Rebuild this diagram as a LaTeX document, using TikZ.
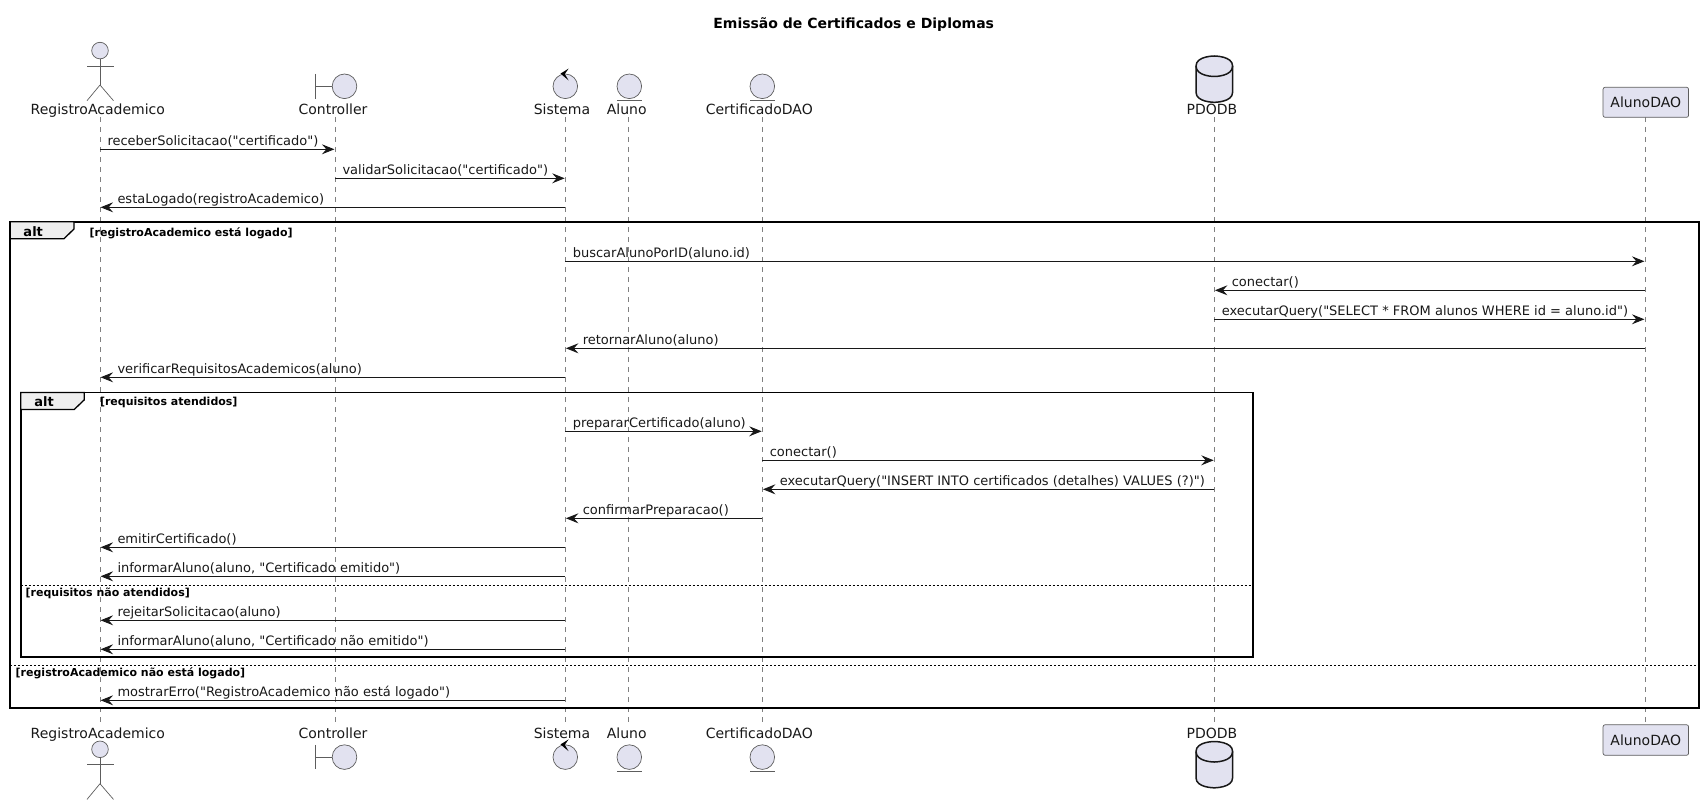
\documentclass[tikz,border=0pt]{standalone}
\usepackage{fontspec}
\setmainfont{DejaVu Sans}
\newfontfamily\djv{DejaVu Sans}
\usetikzlibrary{arrows.meta}
\definecolor{partfill}{HTML}{E2E2F0}
\definecolor{stroke}{HTML}{181818}
\definecolor{tabfill}{HTML}{EEEEEE}
\tikzset{
  life/.style={draw=stroke!55,line width=0.6pt,dash pattern=on 5pt off 5pt},
  msg/.style={draw=stroke,line width=0.9pt,-{Stealth[length=12.5pt,width=10pt,inset=4.5pt]},shorten >=0.6pt},
  msgtext/.style={inner sep=0pt,outer sep=0pt,text=stroke,font=\djv\fontsize{13}{15}\selectfont,anchor=base west},
  plabel/.style={inner sep=0pt,outer sep=0pt,text=stroke,font=\djv\fontsize{14}{16}\selectfont,anchor=base},
  icon/.style={draw=stroke!70,line width=0.7pt,fill=partfill},
  iconline/.style={draw=stroke!70,line width=0.7pt},
  dbshape/.style={draw=stroke,line width=1.5pt,fill=partfill},
  dbcap/.style={draw=stroke,line width=1.5pt},
  pbox/.style={draw=stroke!70,line width=0.7pt,fill=partfill,rounded corners=2pt,minimum width=85.5pt,inner sep=0pt,font=\djv\fontsize{14}{16}\selectfont,text=stroke},
  frame/.style={draw=black,line width=1.9pt},
  tab/.style={draw=black,line width=1.3pt,fill=tabfill},
  divider/.style={draw=black,line width=0.9pt,dash pattern=on 2pt off 2pt},
  guard/.style={inner sep=0pt,outer sep=0pt,text=black,font=\djv\fontsize{11}{13}\selectfont\bfseries,anchor=base west},
  altlabel/.style={inner sep=0pt,outer sep=0pt,text=black,font=\djv\fontsize{13}{15}\selectfont\bfseries,anchor=base},
}
% message going right: name, from, to, y, text
\newcommand\msgright[5]{%
  \coordinate (#1) at (0,#4);
  \draw[msg] (#2|-#1) -- (#3|-#1);
  \node[msgtext,xshift=7.5pt,yshift=4.2pt] (#1t) at (#2|-#1) {#5};
}
% message going left: name, from, to, y, text
\newcommand\msgleft[5]{%
  \coordinate (#1) at (0,#4);
  \draw[msg] (#2|-#1) -- (#3|-#1);
  \node[msgtext,xshift=17.5pt,yshift=4.2pt] (#1t) at (#3|-#1) {#5};
}
\newcommand\actoricon{%
  \draw[icon] (100,50.6) circle (8.3);
  \draw[iconline] (100,58.9) -- (100,85);
  \draw[iconline] (87,66) -- (113.5,66);
  \draw[iconline] (100,85) -- (87,100.7);
  \draw[iconline] (100,85) -- (113.5,100.7);
}
\newcommand\boundaryicon{%
  \draw[iconline] (315.3,74) -- (315.3,98.6);
  \draw[iconline] (315.3,86.3) -- (332.2,86.3);
  \draw[icon] (344.5,86.3) circle (12.3);
}
\newcommand\controlicon{%
  \draw[icon] (565.3,86.3) circle (12.3);
  \fill[stroke] (560.5,73.6) -- (568.6,68.6) -- (564.8,74) -- (568.6,80.4) -- cycle;
}
\newcommand\entityicon[1]{%
  \draw[icon] (#1,86.3) circle (12.3);
  \draw[iconline] (#1-12.3,100.3) -- (#1+12.3,100.3);
}
\newcommand\dbicon{%
  \draw[dbshape] (1196,66) .. controls (1196,56) and (1214.3,56) .. (1214.3,56)
    .. controls (1214.3,56) and (1232.6,56) .. (1232.6,66) -- (1232.6,92.3)
    .. controls (1232.6,102.3) and (1214.3,102.3) .. (1214.3,102.3)
    .. controls (1214.3,102.3) and (1196,102.3) .. (1196,92.3) -- cycle;
  \draw[dbcap] (1196,66) .. controls (1196,76.5) and (1214.3,76.5) .. (1214.3,76.5)
    .. controls (1214.3,76.5) and (1232.6,76.5) .. (1232.6,66);
}
\begin{document}
\begin{tikzpicture}[x=1pt,y=-1pt]
\useasboundingbox (0,0) rectangle (1704,805);

% title
\node[inner sep=0pt,text=black,font=\djv\fontsize{14}{16}\selectfont\bfseries,anchor=base] (title) at (853.7,28.3) {Emissão de Certificados e Diplomas};

% lifeline ends
\coordinate (ra)  at (100,117);    \coordinate (raB)  at (100,723);
\coordinate (ctl) at (335,117);    \coordinate (ctlB) at (335,723);
\coordinate (sis) at (565.3,117);  \coordinate (sisB) at (565.3,723);
\coordinate (alu) at (628.7,117);  \coordinate (aluB) at (628.7,723);
\coordinate (cer) at (762.3,117);  \coordinate (cerB) at (762.3,723);
\coordinate (pdo) at (1214.3,117); \coordinate (pdoB) at (1214.3,723);
\coordinate (ald) at (1645,117);   \coordinate (aldB) at (1645,724.5);

\draw[life] (ra) -- (raB);
\draw[life] (ctl) -- (ctlB);
\draw[life] (sis) -- (sisB);
\draw[life] (alu) -- (aluB);
\draw[life] (cer) -- (cerB);
\draw[life] (pdo) -- (pdoB);
\draw[life] (ald) -- (aldB);

% participants: top
\actoricon \boundaryicon \controlicon \entityicon{629.3} \entityicon{762.3} \dbicon
\node[plabel] (raTop)  at (97.8,115) {RegistroAcademico};
\node[plabel] (ctlTop) at (333,115) {Controller};
\node[plabel] (sisTop) at (562,115) {Sistema};
\node[plabel] (aluTop) at (626.7,115) {Aluno};
\node[plabel] (cerTop) at (759.3,115) {CertificadoDAO};
\node[plabel] (pdoTop) at (1212,115) {PDODB};
\node[pbox,minimum height=30pt] (aldTop) at (1645.8,102.3) {AlunoDAO};

% participants: bottom
\begin{scope}[yshift=-698.7pt]\actoricon\end{scope}
\begin{scope}[yshift=-670.8pt]\boundaryicon \controlicon \entityicon{629.3} \entityicon{762.3}\end{scope}
\begin{scope}[yshift=-685.5pt]\dbicon\end{scope}
\node[plabel] (raBot)  at (97.8,738.2) {RegistroAcademico};
\node[plabel] (ctlBot) at (333,738.2) {Controller};
\node[plabel] (sisBot) at (562,738.2) {Sistema};
\node[plabel] (aluBot) at (626.7,738.2) {Aluno};
\node[plabel] (cerBot) at (759.3,738.2) {CertificadoDAO};
\node[plabel] (pdoBot) at (1212,738.2) {PDODB};
\node[pbox,minimum height=30.5pt] (aldBot) at (1645.8,740) {AlunoDAO};

% outer frame
\draw[frame] (10.3,221.7) rectangle (1698.7,708.3);
\draw[tab] (10.3,221.7) -- (74,221.7) -- (74,229) -- (64,238.7) -- (10.3,238.7) -- cycle;
\node[altlabel] (altOuterT) at (33.2,236) {alt};
\node[guard] (gOuter) at (89.7,236) {[registroAcademico está logado]};
\draw[divider] (10.3,665.3) -- (1698.7,665.3);
\node[guard] (gOuter2) at (15.7,676) {[registroAcademico não está logado]};

% inner frame
\draw[frame] (20.7,392.5) rectangle (1253.4,657);
\draw[tab] (20.7,392.5) -- (84.3,392.5) -- (84.3,399.8) -- (74.3,409.4) -- (20.7,409.4) -- cycle;
\node[altlabel] (altInnerT) at (44,406) {alt};
\node[guard] (gInner) at (100,405) {[requisitos atendidos]};
\draw[divider] (20.7,585.3) -- (1253.4,585.3);
\node[guard] (gInner2) at (25.7,596) {[requisitos não atendidos]};

% messages
\msgright{m1}{ra}{ctl}{149.3}{receberSolicitacao("certificado")}
\msgright{m2}{ctl}{sis}{178.3}{validarSolicitacao("certificado")}
\msgleft{m3}{sis}{ra}{207.3}{estaLogado(registroAcademico)}
\msgright{m4}{sis}{ald}{261.3}{buscarAlunoPorID(aluno.id)}
\msgleft{m5}{ald}{pdo}{290.3}{conectar()}
\msgright{m6}{pdo}{ald}{319.3}{executarQuery("SELECT * FROM alunos WHERE id = aluno.id")}
\msgleft{m7}{ald}{sis}{348.3}{retornarAluno(aluno)}
\msgleft{m8}{sis}{ra}{377.3}{verificarRequisitosAcademicos(aluno)}
\msgright{m9}{sis}{cer}{431.3}{prepararCertificado(aluno)}
\msgright{m10}{cer}{pdo}{460.3}{conectar()}
\msgleft{m11}{pdo}{cer}{489.3}{executarQuery("INSERT INTO certificados (detalhes) VALUES (?)")}
\msgleft{m12}{cer}{sis}{518.3}{confirmarPreparacao()}
\msgleft{m13}{sis}{ra}{547.3}{emitirCertificado()}
\msgleft{m14}{sis}{ra}{576.3}{informarAluno(aluno, "Certificado emitido")}
\msgleft{m15}{sis}{ra}{620.3}{rejeitarSolicitacao(aluno)}
\msgleft{m16}{sis}{ra}{649.3}{informarAluno(aluno, "Certificado não emitido")}
\msgleft{m17}{sis}{ra}{700.3}{mostrarErro("RegistroAcademico não está logado")}
\end{tikzpicture}
\end{document}
